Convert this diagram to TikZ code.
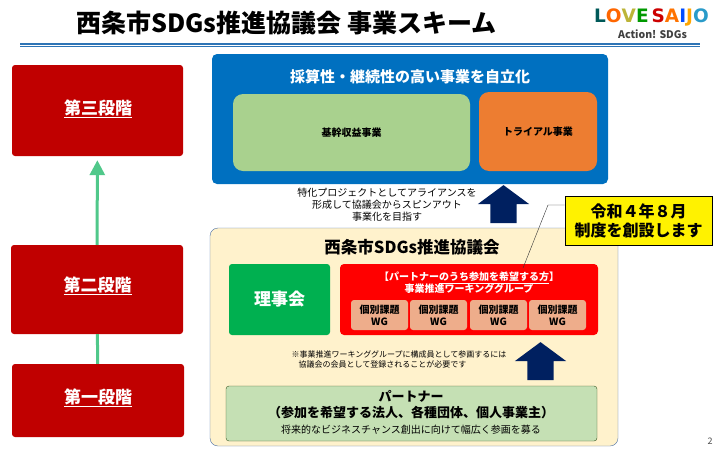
\documentclass[tikz,border=0pt]{standalone}
\usepackage{fontspec}
\usepackage{tikz}
\setmainfont{Noto Sans CJK JP}
\newfontfamily\logofont{DejaVu Sans}
\usetikzlibrary{arrows.meta,shapes}
\definecolor{stagered}{HTML}{C00000}
\definecolor{topblue}{HTML}{0070C0}
\definecolor{navy}{HTML}{002060}
\definecolor{ruleblue}{HTML}{2E75B6}
\definecolor{coregreen}{HTML}{A9D18E}
\definecolor{trialorange}{HTML}{ED7D31}
\definecolor{cream}{HTML}{FFF2CC}
\definecolor{creamedge}{HTML}{4A6FA5}
\definecolor{boardgreen}{HTML}{00B050}
\definecolor{wgsalmon}{HTML}{EEAD8B}
\definecolor{partnergreen}{HTML}{C5E0B4}
\definecolor{partneredge}{HTML}{385723}
\definecolor{arrowgreen}{HTML}{50C88A}
\tikzstyle{stage}=[rectangle,rounded corners=3pt,fill=stagered,inner sep=0pt]
\tikzstyle{stagetext}=[text=white,font=\fontsize{17}{20}\selectfont\bfseries,inner sep=0pt]
\tikzstyle{panel}=[rectangle,rounded corners=8pt,inner sep=0pt]
\tikzstyle{wgbox}=[rectangle,rounded corners=3pt,fill=wgsalmon,minimum width=57pt,minimum height=30pt,inner sep=0pt,align=center,font=\fontsize{10}{12}\selectfont\bfseries]
\tikzstyle{label}=[inner sep=0pt,align=center]
\tikzstyle{uparr}=[single arrow,rotate=90,fill=navy,inner xsep=0pt,inner ysep=13pt,minimum height=38pt,single arrow head extend=12.5pt,single arrow tip angle=107,single arrow head indent=0pt]
\tikzstyle{greenarr}=[draw=arrowgreen,line width=3pt]
\newcommand{\sz}[1]{\fontsize{#1}{#1}\selectfont}
\begin{document}
\begin{tikzpicture}[x=1pt,y=-1pt]
    \useasboundingbox (0,0) rectangle (720,450);
    % heading
    \node[label,font=\sz{25}\bfseries] (heading) at (286.5,23) {西条市SDGs推進協議会 事業スキーム};
    \fill[ruleblue] (20,43) rectangle (700,45.2);
    \fill[ruleblue] (20,46) rectangle (700,47);
    \node[label,font=\sz{18.5}\logofont\bfseries] (logo) at (651.5,17.5) {\textcolor{teal!70!black}{L}\textcolor{orange!80!red}{O}\textcolor{yellow!70!black}{V}\textcolor{green!60!black}{E}\hspace{3pt}\textcolor{red!80!black}{S}\textcolor{orange!90!red}{A}\textcolor{blue!70!cyan}{I}\textcolor{orange!70!yellow}{J}\textcolor{cyan!80!black}{O}};
    \node[label,font=\sz{10.5}\bfseries,text=black!75] (action) at (652.5,34) {Action! SDGs};

    % stages on the left
    \foreach \pos/\name/\w/\h/\tpos/\val in {{(97.5,110.5)/stagethree/171/91/(98,109)/第三段階},
    {(97,289.5)/stagetwo/172/89/(97.5,286)/第二段階},{(98,400.5)/stageone/172/73/(98,398)/第一段階}}{
        \node[stage,minimum width=\w pt,minimum height=\h pt] (\name) at \pos {};
        \node[stagetext] (\name text) at \tpos {\underline{\val}};
    }
    \draw[greenarr] (stageone) -- (stagetwo);
    \draw[greenarr,-{Triangle[length=15pt,width=15pt]},shorten >=4pt] (stagetwo) -- (stagethree);

    % upper block
    \node[panel,rounded corners=5pt,fill=topblue,minimum width=396pt,minimum height=130pt] (goal) at (410,119) {};
    \node[label,text=white,font=\sz{15}\bfseries] (goaltext) at (410,76.5) {採算性・継続性の高い事業を自立化};
    \node[panel,rounded corners=10pt,fill=coregreen,minimum width=237pt,minimum height=77pt,font=\sz{10}\bfseries] (core) at (351.5,132.5) {基幹収益事業};
    \node[panel,rounded corners=10pt,fill=trialorange,minimum width=118pt,minimum height=79pt,font=\sz{10}\bfseries] (trial) at (538,131.5) {トライアル事業};
    \node[label,font=\fontsize{10}{12}\selectfont] (spinout) at (387,205) {特化プロジェクトとしてアライアンスを\\形成して協議会からスピンアウト\\事業化を目指す};
    \node[uparr] (uptop) at (503.5,209) {};

    % council block
    \node[panel,draw=creamedge,fill=cream,minimum width=408pt,minimum height=218pt] (council) at (414,337) {};
    \node[label,font=\sz{16.5}\bfseries] (counciltext) at (412,247) {西条市SDGs推進協議会};
    \node[panel,rounded corners=3pt,fill=boardgreen,text=white,minimum width=101pt,minimum height=71pt,font=\sz{17}\bfseries] (board) at (279.5,299.5) {理事会};
    \node[panel,rounded corners=4pt,fill=red,minimum width=258pt,minimum height=71pt] (group) at (469,299.5) {};
    \node[label,text=white,font=\fontsize{10}{12}\selectfont\bfseries] (grouptext) at (469,283) {【パートナー\underline{のうち参加を希望する方}】\\事業推進ワーキンググループ};
    \foreach \pos/\name in {{(379.5,315)/wga},{(438.5,315)/wgb},{(498.5,315)/wgc},{(557.5,315)/wgd}}
        \node[wgbox] (\name) at \pos {個別課題\\WG};

    % callout
    \node[rectangle,draw=black,line width=0.8pt,fill=yellow,minimum width=147pt,minimum height=49pt,inner sep=0pt,align=center,font=\fontsize{16}{19}\selectfont\bfseries] (callout) at (638.5,220.5) {令和４年８月\\制度を創設します};
    \coordinate (calloutbend) at (548,205);
    \coordinate (callouttip) at (523,268);
    \draw[black!80] (callout.west |- calloutbend) -- (calloutbend) -- (callouttip);

    \node[label,align=left,font=\fontsize{8}{9.5}\selectfont] (note) at (399,359.5) {※事業推進ワーキンググループに構成員として参画するには\\\hspace*{7pt}協議会の会員として登録されることが必要です};
    \node[uparr] (upmid) at (540.5,366) {};

    \node[panel,rounded corners=3pt,draw=partneredge,fill=partnergreen,minimum width=371pt,minimum height=55pt] (partner) at (411.5,413.5) {};
    \node[label,font=\fontsize{13}{16}\selectfont\bfseries] (partnertext) at (411,405) {パートナー\\（参加を希望する法人、各種団体、個人事業主）};
    \node[label,font=\sz{10}] (partnernote) at (411,430) {将来的なビジネスチャンス創出に向けて幅広く参画を募る};

    \node[label,font=\sz{9},text=black!70] (pagenum) at (710,441) {2};
\end{tikzpicture}
\end{document}
